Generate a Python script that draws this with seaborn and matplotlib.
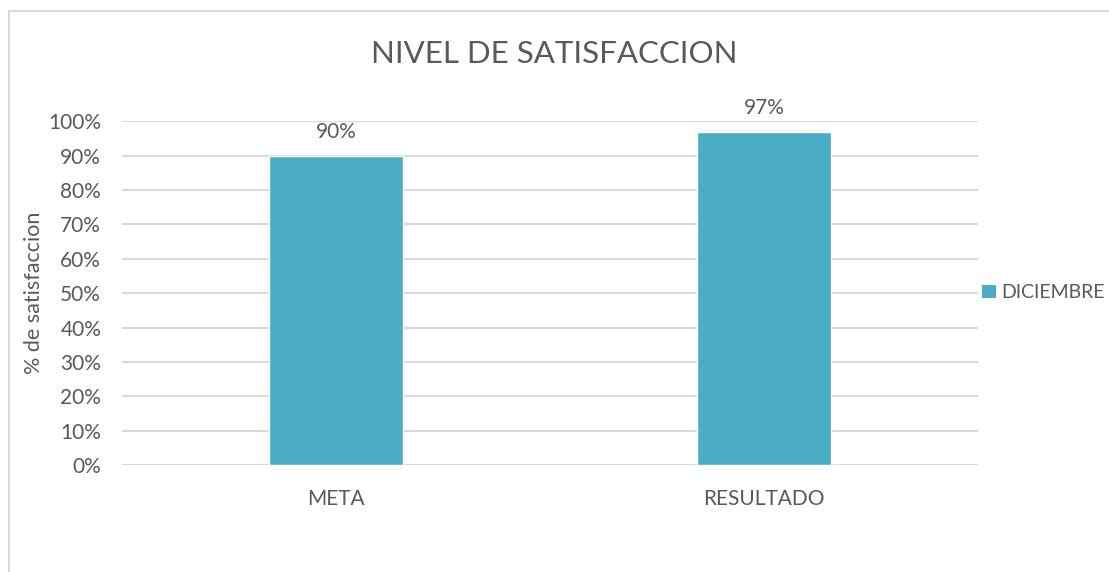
import matplotlib
matplotlib.use("Agg")
import matplotlib.pyplot as plt
import seaborn as sns
import pandas as pd
from matplotlib.lines import Line2D
from matplotlib.patches import Patch

categorias = ["META", "RESULTADO"]
valores = [0.90, 0.97]
serie = "DICIEMBRE"
ticks_y = [0.0, 0.1, 0.2, 0.3, 0.4, 0.5, 0.6, 0.7, 0.8, 0.9, 1.0]

sns.set_theme(style="white")
plt.rcParams["font.family"] = ["Lato", "DejaVu Sans"]

gris = "#595959"
azul = "#4BACC6"

df = pd.DataFrame({"Categoria": categorias, "Valor": valores})

fig = plt.figure(figsize=(11.09, 5.72), dpi=100)
ax = fig.add_axes([0.110, 0.187, 0.772, 0.601])

sns.barplot(data=df, x="Categoria", y="Valor", color=azul, width=0.313,
            saturation=1, ax=ax)

ax.set_ylim(0, 1.0)
ax.set_xlim(-0.5, 1.5)
ax.set_yticks(ticks_y)
ax.set_yticklabels([f"{int(round(t * 100))}%" for t in ticks_y])
ax.yaxis.grid(True, color="#d9d9d9", linewidth=1.5)
ax.set_axisbelow(True)
for s in ax.spines.values():
    s.set_visible(False)
ax.tick_params(axis="both", length=0, colors=gris, labelsize=15)
ax.tick_params(axis="x", pad=17)
ax.tick_params(axis="y", pad=15)
ax.set_xlabel("")
ax.set_ylabel("% de satisfaccion", color=gris, fontsize=15.5, labelpad=3)

for cont in ax.containers:
    ax.bar_label(cont, labels=[f"{int(round(v * 100))}%" for v in valores],
                 padding=10, color=gris, fontsize=15)

fig.text(0.5, 0.905, "NIVEL DE SATISFACCION", ha="center", va="center",
         color=gris, fontsize=22.5)

leg = fig.legend(handles=[Patch(facecolor=azul, edgecolor="none", label=serie)],
                 loc="center left", bbox_to_anchor=(0.875, 0.488), frameon=False,
                 fontsize=14, handlelength=0.7, handleheight=0.7,
                 handletextpad=0.3, borderaxespad=0.2)
for t in leg.get_texts():
    t.set_color(gris)

# marco del grafico
fig.add_artist(Line2D([9 / 1109, 9 / 1109], [0, 1 - 11 / 572], color="#d9d9d9",
                      linewidth=1.5, transform=fig.transFigure))
fig.add_artist(Line2D([9 / 1109, 1], [1 - 11 / 572, 1 - 11 / 572], color="#d9d9d9",
                      linewidth=1.5, transform=fig.transFigure))

fig.savefig("out.png", dpi=100)
